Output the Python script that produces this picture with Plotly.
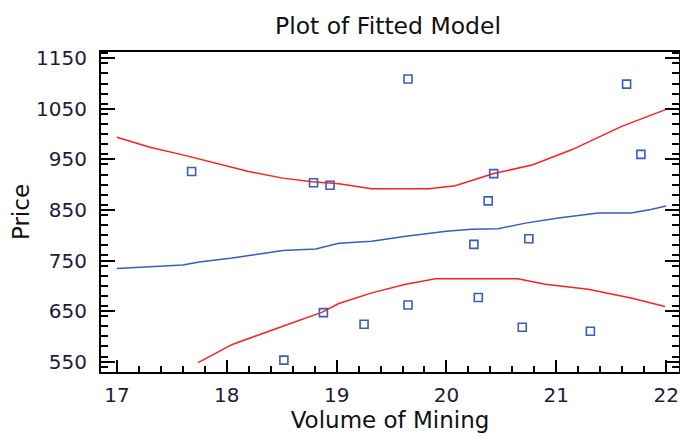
import plotly.graph_objects as go

# Observed data points
vol = [17.68, 18.79, 18.94, 19.65, 21.64, 20.43, 20.38, 21.77, 20.25, 20.75,
       18.88, 18.52, 19.25, 19.65, 20.29, 20.69, 21.31]
price = [926, 904, 899, 1109, 1099, 922, 868, 960, 782, 793,
         647, 553, 624, 662, 677, 618, 610]

# Fitted line
fit_x = [17.0, 17.27, 17.6, 17.75, 18.05, 18.36, 18.51, 18.81, 19.02, 19.32,
         19.63, 20.0, 20.23, 20.47, 20.72, 21.02, 21.38, 21.68, 21.86, 22.0]
fit_y = [734, 737, 741, 747, 755, 765, 770, 773, 784, 788,
         798, 808, 812, 813, 824, 834, 844, 844, 851, 858]

# Upper band
up_x = [17.0, 17.3, 17.6, 17.9, 18.2, 18.51, 18.78, 19.02, 19.32, 19.84,
        20.08, 20.43, 20.78, 21.14, 21.59, 22.0]
up_y = [994, 974, 959, 943, 926, 913, 906, 902, 892, 892,
        898, 922, 939, 969, 1015, 1049]

# Lower band
lo_x = [17.74, 18.05, 18.51, 18.87, 19.02, 19.32, 19.63, 19.9, 20.23, 20.65,
        20.9, 21.29, 21.68, 21.99]
lo_y = [548, 584, 620, 648, 665, 686, 703, 714, 714, 714,
        703, 693, 676, 659]

x_ticks = [17, 18, 19, 20, 21, 22]
y_ticks = [550, 650, 750, 850, 950, 1050, 1150]

RED = "#ff1f1f"
BLUE = "#3a5bbf"
FONT = "DejaVu Sans"
TICKCOL = "#1c1c3a"

fig = go.Figure()
fig.add_trace(go.Scatter(x=up_x, y=up_y, mode="lines",
                         line=dict(color=RED, width=1.5), showlegend=False))
fig.add_trace(go.Scatter(x=lo_x, y=lo_y, mode="lines",
                         line=dict(color=RED, width=1.5), showlegend=False))
fig.add_trace(go.Scatter(x=fit_x, y=fit_y, mode="lines",
                         line=dict(color=BLUE, width=1.5), showlegend=False))
fig.add_trace(go.Scatter(x=vol, y=price, mode="markers",
                         marker=dict(symbol="square-open", size=8,
                                     color=BLUE, line=dict(width=1.6, color=BLUE)),
                         showlegend=False))

# plot area 101..679 px horizontally; 17 -> 117, 22 -> 666
xr = [16.855, 22.117]
yr = [529.5, 1162.5]

fig.update_layout(
    width=680, height=439,
    margin=dict(l=101, r=1, t=52, b=66.5),
    paper_bgcolor="white", plot_bgcolor="white",
    font=dict(family=FONT, color="#111"),
    title=dict(text="Plot of Fitted Model", x=388 / 680, xref="container",
               xanchor="center", y=1 - 26 / 439, yref="container",
               yanchor="middle", font=dict(family=FONT, size=23.5, color="#111")),
    xaxis=dict(range=xr, tickvals=x_ticks, ticks="inside", ticklen=12,
               tickwidth=1.5, tickcolor="black", showline=True, linecolor="black",
               linewidth=2, mirror=True, showgrid=False, zeroline=False,
               automargin=False,
               tickfont=dict(family=FONT, size=20, color=TICKCOL),
               ticklabelstandoff=4,
               minor=dict(dtick=0.2, ticks="inside", ticklen=6, tickwidth=1.5,
                          tickcolor="black", showgrid=False),
               title=dict(text="Volume of Mining", standoff=4,
                          font=dict(family=FONT, size=23, color="#111"))),
    xaxis2=dict(range=xr, overlaying="x", side="top", anchor="y",
                tickvals=x_ticks, ticks="inside", ticklen=7, tickwidth=1.5,
                tickcolor="black", showticklabels=False, showline=False,
                showgrid=False, zeroline=False, automargin=False),
    yaxis=dict(range=yr, tickvals=y_ticks, ticks="inside", ticklen=14,
               tickwidth=1.5, tickcolor="black", showline=True, linecolor="black",
               linewidth=2, mirror="ticks", showgrid=False, zeroline=False,
               automargin=False,
               tickfont=dict(family=FONT, size=20, color=TICKCOL),
               ticklabelstandoff=8,
               minor=dict(dtick=20, ticks="inside", ticklen=7, tickwidth=1.5,
                          tickcolor="black", showgrid=False),
               title=dict(text="Price", standoff=0,
                          font=dict(family=FONT, size=23, color="#111"))),
)

fig.write_html(
    "out.html",
    config={"displayModeBar": False},
    post_script="document.body.style.margin='0';document.body.style.overflow='hidden';",
)
